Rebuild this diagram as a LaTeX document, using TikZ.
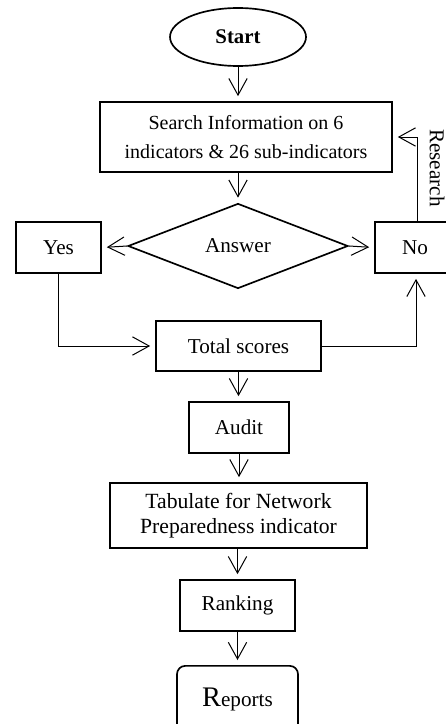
\documentclass[tikz,border=0pt,12pt]{standalone}
\usepackage{fontspec}
\setmainfont{Liberation Serif}
\usetikzlibrary{arrows.meta, positioning, shapes.geometric}
\tikzset{every node/.style={align=center, font=\fontsize{12.7}{15}\selectfont}}

\begin{document}
\begin{tikzpicture}[x=0.6pt, y=-0.6pt,
    box/.style={draw, line width=1pt, inner sep=2pt},
    arr/.style={-{Straight Barb[length=10pt, width=11pt]}, line width=0.6pt, shorten >=3pt}]
    \useasboundingbox (0,0) rectangle (446,724);
    \clip (0,0) rectangle (446,724);
    \node[box, ellipse, minimum width=81.6pt, minimum height=34.8pt, font=\fontsize{12.5}{15}\selectfont\bfseries] (start) at (238,37) {Start};
    \node[box, minimum width=175.2pt, minimum height=42pt, font=\fontsize{12}{17.4}\selectfont] (search) at (246,137) {Search Information on 6\\indicators \& 26 sub-indicators};
    \node[box, diamond, minimum width=132pt, minimum height=51pt, inner sep=0pt] (answer) at (238,246) {Answer};
    \node[box, minimum width=51pt, minimum height=30.6pt] (yes) at (58.5,247.5) {Yes};
    \node[box, minimum width=48pt, minimum height=30.6pt] (no) at (415,247.5) {No};
    \node[box, minimum width=99pt, minimum height=30pt] (total) at (238.5,346) {Total scores};
    \node[box, minimum width=60pt, minimum height=30.6pt] (audit) at (239,427.5) {Audit};
    \node[box, minimum width=154.2pt, minimum height=39pt, font=\fontsize{13}{15}\selectfont] (tabulate) at (238.5,515.5) {Tabulate for Network\\Preparedness indicator};
    \node[box, minimum width=69pt, minimum height=30.6pt] (ranking) at (237.5,605.5) {Ranking};
    \node[box, rounded corners=5pt, anchor=north, minimum width=72.6pt, text height=22.6pt, text depth=20pt] (reports) at (237.5,665) {{\fontsize{17}{17}\selectfont R}eports};
    \node[rotate=-90, inner sep=0pt] (research) at (437,168) {Research};
    \draw[arr] (start.south) -- (start.south |- search.north);
    \draw[arr] (search.south -| answer) -- (answer.north);
    \draw[arr] (answer.west) -- (yes.east);
    \draw[arr] (answer.east) -- (no.west);
    \draw[arr] (yes.south) |- (total.west);
    \draw[arr] (total.east) -| ([xshift=0.6pt]no.south);
    \draw[arr] ([xshift=1.2pt]no.north) |- (search.east);
    \draw[arr] (total.south) -- (total.south |- audit.north);
    \draw[arr] (audit.south) -- (audit.south |- tabulate.north);
    \draw[arr] (tabulate.south -| ranking) -- (ranking.north);
    \draw[arr] (ranking.south) -- (ranking.south |- reports.north);
\end{tikzpicture}
\end{document}
